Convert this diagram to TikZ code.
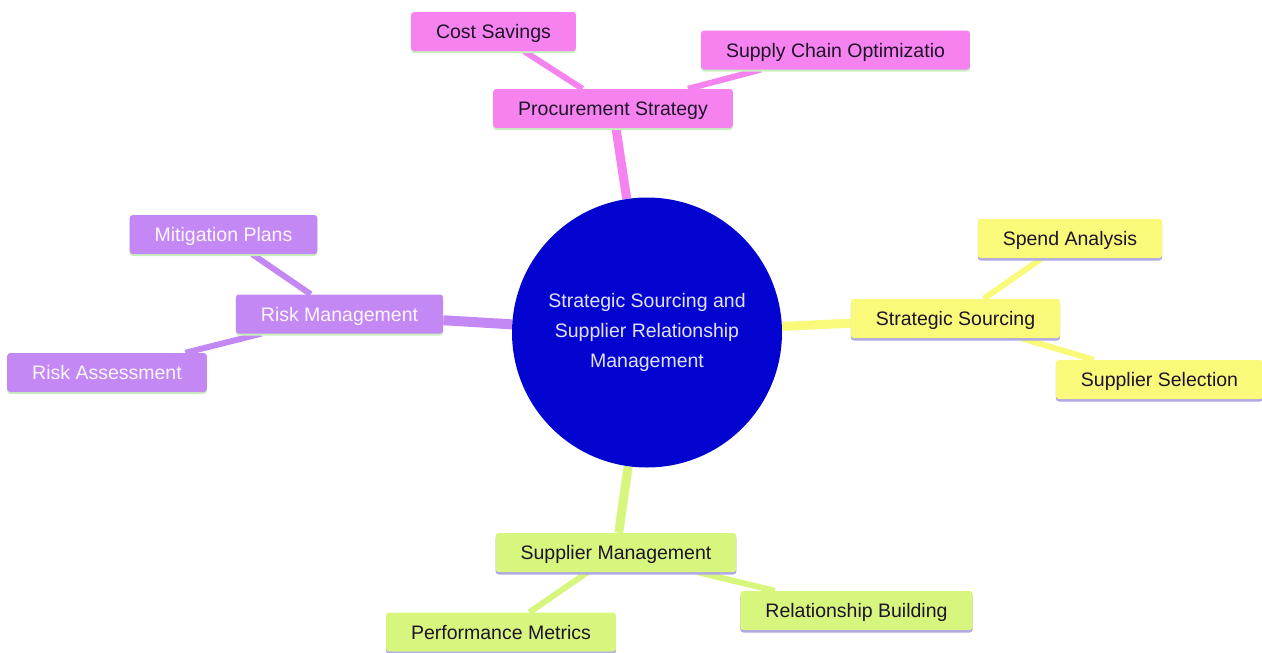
\documentclass[tikz,border=0pt]{standalone}
\usepackage{fontspec}
\setmainfont{Liberation Sans}
\usetikzlibrary{shadows,backgrounds}
\definecolor{pinkc}{RGB}{246,130,240}
\definecolor{purplec}{RGB}{196,136,245}
\definecolor{yellowc}{RGB}{250,250,122}
\definecolor{greenc}{RGB}{214,246,126}
\definecolor{centerc}{RGB}{4,4,208}
\definecolor{centertext}{RGB}{225,225,250}
\definecolor{lavline}{RGB}{175,168,228}
\definecolor{mintline}{RGB}{200,240,190}
\definecolor{darktext}{RGB}{30,20,40}
\tikzset{
  box/.style={rounded corners=3pt, minimum height=39pt, inner xsep=25pt, inner ysep=0pt,
    text height=14pt, text depth=0pt,
    font=\fontsize{19.5}{23}\selectfont, text=darktext},
  pinkbox/.style={box, fill=pinkc, drop shadow={shadow xshift=0pt, shadow yshift=-2pt, fill=mintline, opacity=1}},
  purplebox/.style={box, fill=purplec, text=white!94!purplec, drop shadow={shadow xshift=0pt, shadow yshift=-2pt, fill=mintline, opacity=1}},
  yellowbox/.style={box, fill=yellowc, drop shadow={shadow xshift=0pt, shadow yshift=-2.5pt, fill=lavline, opacity=1}},
  greenbox/.style={box, fill=greenc, drop shadow={shadow xshift=0pt, shadow yshift=-2.5pt, fill=lavline, opacity=1}},
  mainconn/.style={line width=9pt},
  subconn/.style={line width=6pt},
}
\begin{document}
\begin{tikzpicture}[x=1pt,y=-1pt]
\useasboundingbox (0,0) rectangle (1262,653);
\node[circle, fill=centerc, minimum size=270pt, inner sep=0pt, align=center, text=centertext,
  font=\fontsize{19.5}{30}\selectfont] (c) at (647,332.5) {Strategic Sourcing and\\Supplier Relationship\\Management};

\node[pinkbox] (ps) at (613,108.5) {Procurement Strategy};
\node[pinkbox] (cs) at (493.5,31.5) {Cost Savings};
\node[pinkbox] (sco) at (835.5,50) {Supply Chain Optimizatio};

\node[yellowbox] (ss) at (955.5,318.5) {Strategic Sourcing};
\node[yellowbox] (sa) at (1070,238.5) {Spend Analysis};
\node[yellowbox] (sel) at (1159.5,379.5) {Supplier Selection};

\node[purplebox] (rm) at (339.5,314) {Risk Management};
\node[purplebox] (mp) at (223.5,234.5) {Mitigation Plans};
\node[purplebox] (ra) at (107,372.5) {Risk Assessment};

\node[greenbox] (sm) at (616,552.5) {Supplier Management};
\node[greenbox] (pm) at (501,632) {Performance Metrics};
\node[greenbox] (rb) at (856.5,610.5) {Relationship Building};

\begin{pgfonlayer}{background}
\draw[mainconn, pinkc] (c) -- (ps);
\draw[subconn, pinkc] (ps) -- (cs);
\draw[subconn, pinkc] (ps) -- (sco);
\draw[mainconn, yellowc] (c) -- (ss);
\draw[subconn, yellowc] (ss) -- (sa);
\draw[subconn, yellowc] (ss) -- (sel);
\draw[mainconn, line width=10pt, purplec] (c) -- (rm);
\draw[subconn, purplec] (rm) -- (mp);
\draw[subconn, purplec] (rm) -- (ra);
\draw[mainconn, greenc] (c) -- (sm);
\draw[subconn, greenc] (sm) -- (pm);
\draw[subconn, greenc] (sm) -- (rb);
\end{pgfonlayer}
\end{tikzpicture}
\end{document}
